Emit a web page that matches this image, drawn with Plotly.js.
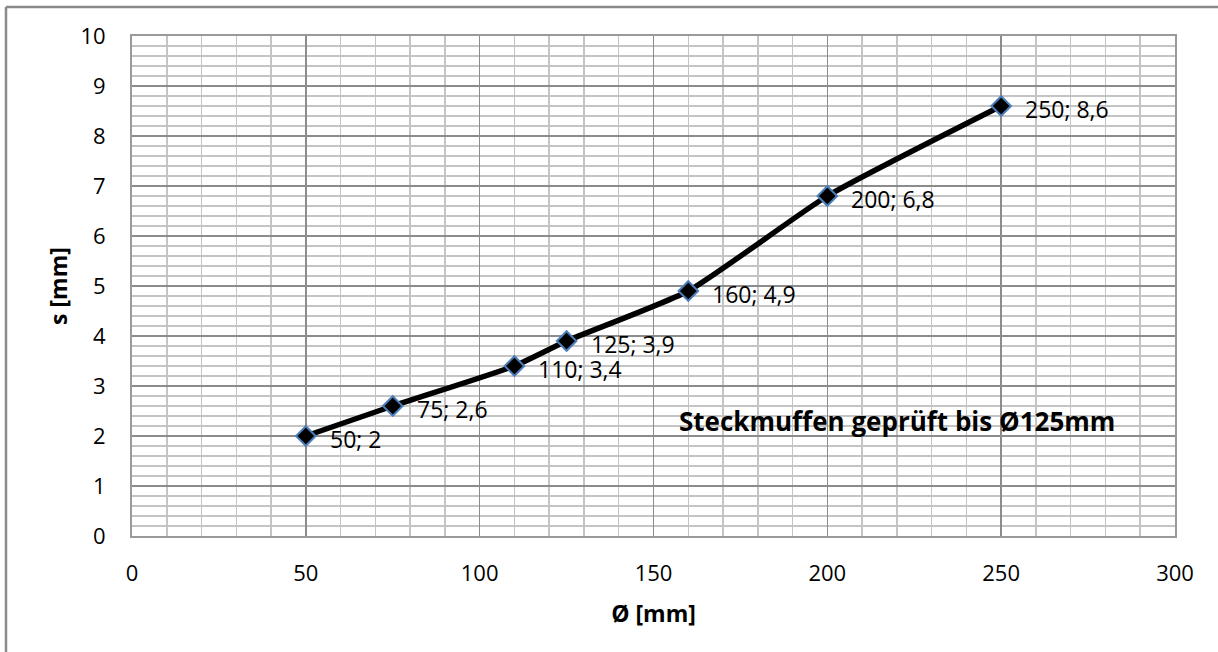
<!DOCTYPE html>
<html>
<head>
<meta charset="utf-8">
<script src="https://cdn.plot.ly/plotly-3.0.1.min.js"></script>
<style>html,body{margin:0;padding:0;background:#fff;}#chart{width:1218px;height:652px;}</style>
</head>
<body>
<div id="chart"></div>
<script>
const diameters = [50, 75, 110, 125, 160, 200, 250];
const wallThickness = [2, 2.6, 3.4, 3.9, 4.9, 6.8, 8.6];
const xTitle = "Ø [mm]";
const yTitle = "s [mm]";
const noteText = "Steckmuffen geprüft bis Ø125mm";

const labels = diameters.map((d, i) => d + "; " + String(wallThickness[i]).replace(".", ","));
const fontFam = "'Open Sans', 'Noto Sans', sans-serif";

const trace = {
  x: diameters,
  y: wallThickness,
  mode: "lines+markers",
  type: "scatter",
  line: {color: "#000", width: 5.5, shape: "spline", smoothing: 0.5},
  marker: {symbol: "diamond", size: 15, color: "#000", line: {color: "#4a7ebb", width: 2}},
  cliponaxis: false,
  hoverinfo: "x+y"
};

const labelAnnotations = diameters.map((d, i) => ({
  xref: "x", yref: "y", x: d, y: wallThickness[i],
  text: labels[i], showarrow: false,
  xanchor: "left", yanchor: "middle", xshift: 22, yshift: -3,
  font: {family: fontFam, size: 23, color: "#000"}
}));

const fx = (6 - 132) / 1043;
const fy = 1 + (36 - 7) / 500;

const layout = {
  width: 1218, height: 652,
  margin: {l: 132, r: 43, t: 36, b: 116},
  paper_bgcolor: "#fff", plot_bgcolor: "#fff",
  showlegend: false,
  font: {family: fontFam, size: 22, color: "#000"},
  xaxis: {
    range: [0, 300], dtick: 50, tick0: 0,
    showgrid: true, gridcolor: "#8c8c8c", gridwidth: 1.5,
    minor: {dtick: 10, showgrid: true, gridcolor: "#c4c4c4", gridwidth: 1.5},
    zeroline: false,
    showline: true, mirror: true, linecolor: "#9a9a9a", linewidth: 2,
    ticks: "outside", ticklen: 17, tickcolor: "rgba(0,0,0,0)",
    tickfont: {family: fontFam, size: 22},
    title: {text: "<b>" + xTitle + "</b>", font: {family: fontFam, size: 23}, standoff: 19}
  },
  yaxis: {
    range: [0, 10], dtick: 1, tick0: 0,
    showgrid: true, gridcolor: "#8c8c8c", gridwidth: 1.5,
    minor: {dtick: 0.2, showgrid: true, gridcolor: "#c4c4c4", gridwidth: 1.5},
    zeroline: false,
    showline: true, mirror: true, linecolor: "#9a9a9a", linewidth: 2,
    ticks: "outside", ticklen: 20, tickcolor: "rgba(0,0,0,0)",
    tickfont: {family: fontFam, size: 22},
    title: {text: "<b>" + yTitle + "</b>", font: {family: fontFam, size: 23}, standoff: 6}
  },
  annotations: [{
    xref: "x", yref: "y", x: 220, y: 2.3,
    text: "<b>" + noteText + "</b>",
    showarrow: false,
    font: {family: fontFam, size: 26, color: "#000"}
  }].concat(labelAnnotations),
  shapes: [
    {type: "line", xref: "paper", yref: "paper", x0: fx, x1: fx, y0: -0.5, y1: fy, line: {color: "#8a8a8a", width: 2.5}},
    {type: "line", xref: "paper", yref: "paper", x0: fx, x1: 1.2, y0: fy, y1: fy, line: {color: "#8a8a8a", width: 2.5}}
  ]
};

Plotly.newPlot("chart", [trace], layout, {displayModeBar: false, staticPlot: true});
</script>
</body>
</html>
